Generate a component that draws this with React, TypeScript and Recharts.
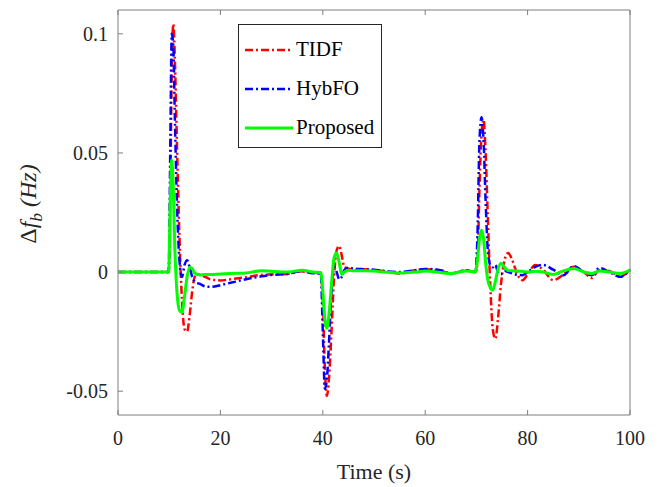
import React from "react";
import { LineChart, Line, XAxis, YAxis } from "recharts";

// sample times (s)
const time = [
  0, 5, 9.9, 10.2, 10.5, 10.8, 11.1, 11.5, 12, 12.5, 13, 13.5, 14, 14.5, 15, 16, 17, 18, 20, 22, 25, 28, 30, 33,
  36, 38, 39.6, 40, 40.4, 40.8, 41.2, 41.7, 42.2, 42.7, 43.2, 43.7, 44.2, 45, 46, 48, 50, 52, 55, 58, 60, 63, 65,
  68, 69.8, 70.2, 70.6, 71, 71.4, 71.8, 72.2, 72.7, 73.2, 73.7, 74.2, 74.8, 75.5, 76.2, 77, 78, 79, 80, 81.5, 83,
  85, 87, 89, 91, 92.5, 94, 96, 98, 100,
];

const tidf = [
  0, 0, 0, 0.03, 0.085, 0.104, 0.09, 0.055, 0.015, -0.012, -0.024, -0.025, -0.018, -0.008, -0.002, -0.001, -0.002,
  -0.003, -0.0035, -0.003, -0.0022, -0.0012, -0.001, -0.0008, 0.0003, -0.0003, -0.0005, -0.012, -0.04, -0.052,
  -0.045, -0.025, -0.002, 0.009, 0.011, 0.007, 0.002, 0.0015, 0.001, 0.0012, 0.0008, 0.0004, -0.0006, 0.0008,
  0.0012, 0.0006, -0.0008, 0.0008, 0, 0.004, 0.035, 0.058, 0.064, 0.05, 0.025, -0.005, -0.024, -0.028, -0.02,
  -0.005, 0.005, 0.008, 0.005, -0.001, -0.0034, -0.001, 0.003, 0.001, -0.0034, -0.001, 0.0022, 0, -0.0025, 0.0008,
  0.0005, -0.002, 0.001,
];

const hybfo = [
  0, 0, 0, 0.05, 0.1, 0.095, 0.065, 0.03, 0.005, -0.002, 0.003, 0.005, 0.002, -0.002, -0.004, -0.005, -0.006,
  -0.0062, -0.0055, -0.0045, -0.003, -0.0018, -0.0012, -0.0008, 0.0004, -0.0005, -0.0006, -0.025, -0.049, -0.045,
  -0.03, -0.008, 0.002, 0, -0.003, -0.002, 0.0008, 0.0018, 0.0015, 0.0012, 0.001, 0.0004, 0, 0.0008, 0.0013,
  0.0008, -0.0006, 0.0008, 0, 0.015, 0.055, 0.065, 0.055, 0.03, 0.01, 0.003, 0.002, 0.003, 0, -0.001, 0.0005, 0,
  -0.0005, -0.0012, -0.0013, 0, 0.0022, 0.003, 0.001, -0.0013, 0.0025, 0, -0.0013, 0.0017, 0, -0.002, 0.001,
];

const proposed = [
  0, 0, 0, 0.03, 0.047, 0.035, 0.01, -0.008, -0.016, -0.017, -0.01, -0.002, 0.002, 0.0015, -0.0005, -0.0012, -0.001,
  -0.001, -0.0008, -0.0006, -0.0004, 0.0006, 0.0003, 0, 0.0008, 0, -0.0002, -0.008, -0.02, -0.0236, -0.018, -0.005,
  0.006, 0.008, 0.004, -0.001, 0, 0.0008, 0.0006, 0.0006, 0.0004, 0, -0.0004, 0, 0.0004, -0.0002, -0.0006, 0.0004,
  0, 0.005, 0.014, 0.0177, 0.014, 0.004, -0.003, -0.0065, -0.0076, -0.004, 0.001, 0.0037, 0.002, 0.0006, 0.0005,
  0.0004, 0.0003, 0, 0.0003, 0, -0.001, 0.0005, 0.0015, 0, -0.0006, 0.0004, 0, -0.0006, 0.0008,
];

const xTicks = [0, 20, 40, 60, 80, 100];
const yTicks = [-0.05, 0, 0.05, 0.1];

const data = time.map((t, i) => ({ t, tidf: tidf[i], hybfo: hybfo[i], proposed: proposed[i] }));

const serif = "'Liberation Serif', 'Times New Roman', Times, 'DejaVu Serif', serif";
const axisColor = "#7f7f7f";
const textColor = "#262626";

const series = [
  { key: "tidf", name: "TIDF", color: "#ff0000", dash: "8 3 2 3", width: 2.5 },
  { key: "hybfo", name: "HybFO", color: "#0000ff", dash: "8 3 2 3", width: 2.5 },
  { key: "proposed", name: "Proposed", color: "#00ff00", dash: undefined, width: 3 },
];

const fmtY = (v: number) => (v === 0 ? "0" : String(v));
const noLabel = () => <g />;

function LegendBox() {
  return (
    <div
      style={{
        position: "absolute",
        left: 238,
        top: 24,
        width: 144,
        height: 124,
        border: "1px solid #262626",
        background: "#fff",
        fontFamily: serif,
        fontSize: 21,
        color: "#000",
        boxSizing: "border-box",
        paddingTop: 5,
      }}
    >
      {series.map((s) => (
        <div key={s.key} style={{ display: "flex", alignItems: "center", height: 39 }}>
          <svg width={51} height={10} style={{ marginLeft: 6 }}>
            <line x1={0} y1={5} x2={48} y2={5} stroke={s.color} strokeWidth={s.width} strokeDasharray={s.dash} />
          </svg>
          <span>{s.name}</span>
        </div>
      ))}
    </div>
  );
}

function YLabel() {
  const x = 36;
  const y = 204;
  return (
    <text
      x={x}
      y={y}
      transform={`rotate(-90, ${x}, ${y})`}
      textAnchor="middle"
      fontFamily={serif}
      fontSize={24}
      fill={textColor}
    >
      <tspan>Δ</tspan>
      <tspan fontStyle="italic">f</tspan>
      <tspan fontStyle="italic" fontSize={17} dy={6}>
        b
      </tspan>
      <tspan fontStyle="italic" dy={-6}>
        {" "}(Hz)
      </tspan>
    </text>
  );
}

export default function App() {
  return (
    <div style={{ position: "absolute", left: 0, top: 0, width: 667, height: 487, background: "#fff" }}>
      <LineChart width={667} height={487} data={data} margin={{ top: 9, right: 36, bottom: 0, left: 0 }}>
        <XAxis
          xAxisId="b"
          dataKey="t"
          type="number"
          domain={[0, 100]}
          ticks={xTicks}
          height={72}
          tickSize={-5}
          tickMargin={21}
          stroke={axisColor}
          tick={{ fill: textColor, fontFamily: serif, fontSize: 20 }}
          label={{ value: "Time (s)", position: "insideBottom", offset: 8, fill: textColor, fontFamily: serif, fontSize: 22 }}
        />
        <XAxis
          xAxisId="t"
          orientation="top"
          dataKey="t"
          type="number"
          domain={[0, 100]}
          ticks={xTicks}
          height={1}
          tickSize={-5}
          tick={noLabel}
          stroke={axisColor}
        />
        <YAxis
          yAxisId="l"
          type="number"
          domain={[-0.06, 0.11]}
          ticks={yTicks}
          width={118}
          tickSize={-5}
          tickMargin={15}
          tickFormatter={fmtY}
          stroke={axisColor}
          tick={{ fill: textColor, fontFamily: serif, fontSize: 20 }}
          label={<YLabel />}
        />
        <YAxis
          yAxisId="r"
          orientation="right"
          type="number"
          domain={[-0.06, 0.11]}
          ticks={yTicks}
          width={1}
          tickSize={-5}
          tick={noLabel}
          stroke={axisColor}
        />
        {series.map((s) => (
          <Line
            key={s.key}
            xAxisId="b"
            yAxisId="l"
            type="monotone"
            dataKey={s.key}
            name={s.name}
            stroke={s.color}
            strokeWidth={s.width}
            strokeDasharray={s.dash}
            dot={false}
            activeDot={false}
            isAnimationActive={false}
          />
        ))}
      </LineChart>
      <LegendBox />
    </div>
  );
}
